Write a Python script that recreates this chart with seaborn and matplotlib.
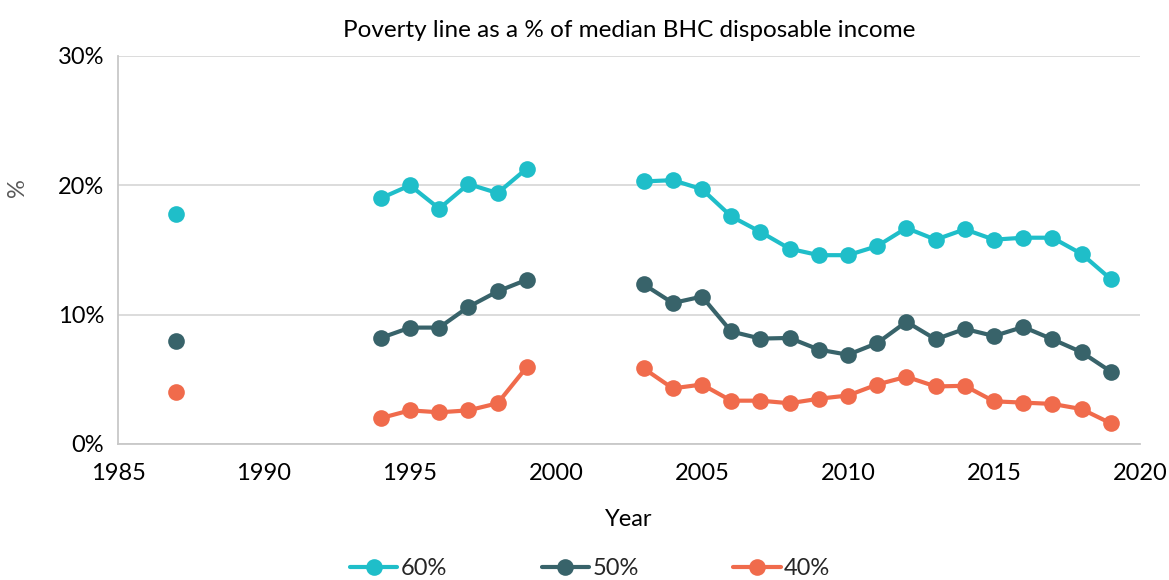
import numpy as np
import pandas as pd
import matplotlib
matplotlib.use("Agg")
import matplotlib.pyplot as plt
from matplotlib.lines import Line2D
import seaborn as sns

# Survey years (no data for 1988-1993 and 2000-2002)
years = [1987, 1994, 1995, 1996, 1997, 1998, 1999,
         2003, 2004, 2005, 2006, 2007, 2008, 2009, 2010, 2011,
         2012, 2013, 2014, 2015, 2016, 2017, 2018, 2019]

# Share below the poverty line (%) for each threshold
line_60 = [17.75, 19.0, 20.0, 18.2, 20.1, 19.4, 21.3,
           20.3, 20.4, 19.7, 17.6, 16.4, 15.1, 14.6, 14.6, 15.3,
           16.7, 15.8, 16.6, 15.8, 15.95, 15.95, 14.7, 12.75]
line_50 = [8.0, 8.2, 9.0, 9.0, 10.6, 11.8, 12.7,
           12.35, 10.9, 11.4, 8.7, 8.15, 8.2, 7.3, 6.9, 7.8,
           9.45, 8.1, 8.9, 8.35, 9.05, 8.1, 7.1, 5.6]
line_40 = [4.0, 2.0, 2.6, 2.45, 2.6, 3.15, 5.95,
           5.85, 4.3, 4.6, 3.35, 3.35, 3.15, 3.5, 3.75, 4.6,
           5.2, 4.45, 4.5, 3.3, 3.2, 3.1, 2.7, 1.6]

series_names = ["60%", "50%", "40%"]
series_values = [line_60, line_50, line_40]
colors = ["#1FBEC9", "#38636A", "#F06B4C"]

x_ticks = [1985, 1990, 1995, 2000, 2005, 2010, 2015, 2020]
y_ticks = [0, 10, 20, 30]

# Long-form table; consecutive-year runs become separate segments
rows = []
for name, vals in zip(series_names, series_values):
    seg = 0
    prev = None
    for yr, v in zip(years, vals):
        if prev is not None and yr - prev > 1:
            seg += 1
        rows.append({"Year": yr, "value": v, "series": name, "segment": seg})
        prev = yr
df = pd.DataFrame(rows)

sns.set_theme(style="white")
plt.rcParams["font.family"] = ["Lato", "DejaVu Sans"]

fig = plt.figure(figsize=(11.69, 5.80), dpi=100)
ax = fig.add_axes([118 / 1169, 1 - 444 / 580, (1140 - 118) / 1169, (444 - 56) / 580])

for name, col in zip(series_names, colors):
    sub = df[df["series"] == name]
    sns.lineplot(data=sub, x="Year", y="value", units="segment", estimator=None,
                 color=col, linewidth=3, marker="o", markersize=12,
                 markeredgewidth=0, ax=ax, legend=False, zorder=3)

ax.set_xlim(1985, 2020)
ax.set_ylim(0, 30)
ax.set_xticks(x_ticks)
ax.set_xticklabels([str(t) for t in x_ticks])
ax.set_yticks(y_ticks)
ax.set_yticklabels([f"{t}%" for t in y_ticks])
ax.tick_params(axis="both", labelsize=17, colors="#000000", length=0)
ax.tick_params(axis="x", pad=14)
ax.tick_params(axis="y", pad=10)
ax.yaxis.grid(True, color="#D9D9D9", linewidth=1.3)
ax.xaxis.grid(False)
for side in ["top", "right"]:
    ax.spines[side].set_visible(False)
for side in ["left", "bottom"]:
    ax.spines[side].set_color("#C8C8C8")
    ax.spines[side].set_linewidth(1.3)

ax.set_xlabel("Year", fontsize=17, color="#000000", labelpad=18)
ax.set_ylabel("%", fontsize=17, color="#595959")
ax.yaxis.set_label_coords(-0.088, 0.66)
ax.set_title("Poverty line as a % of median BHC disposable income",
             fontsize=17.5, color="#000000", pad=14)

handles = [Line2D([0], [0], color=c, linewidth=3, marker="o", markersize=12,
                  markeredgewidth=0) for c in colors]
fig.legend(handles, series_names, loc="lower center", ncol=3, frameon=False,
           fontsize=17, bbox_to_anchor=(0.505, -0.035), columnspacing=4.0,
           handlelength=2.0, handletextpad=0.15)

fig.savefig("out.png", dpi=100)
